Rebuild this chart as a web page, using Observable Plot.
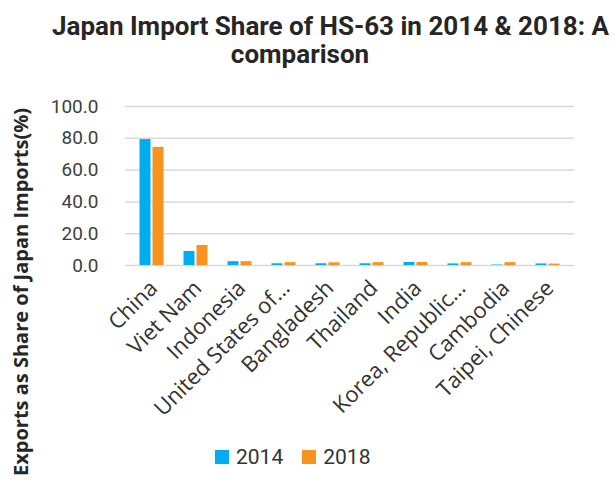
<!DOCTYPE html>
<html><head><meta charset="utf-8">
<script src="https://cdn.jsdelivr.net/npm/d3@7"></script>
<script src="https://cdn.jsdelivr.net/npm/@observablehq/plot@0.6"></script>
<style>
body{margin:0;background:#fff;}
#wrap{position:relative;width:615px;height:486px;overflow:hidden;background:#fff;}
.title{position:absolute;font-family:Roboto,sans-serif;font-weight:700;font-size:26px;line-height:30px;color:#262626;white-space:nowrap;z-index:2;}
#ylab{position:absolute;left:20px;top:292px;transform:translate(-50%,-50%) rotate(-90deg);font-family:"Open Sans",sans-serif;font-weight:700;font-size:20px;color:#262626;white-space:nowrap;z-index:2;}
#chart{position:absolute;left:0;top:75px;z-index:1;}
#legend{position:absolute;left:215px;top:442px;height:30px;display:flex;align-items:center;font-family:Roboto,sans-serif;font-size:21px;color:#333;z-index:2;}
.sw{width:14px;height:14px;display:inline-block;margin-right:7px;}
#chart g[aria-label="y-axis tick label"]{font-family:Roboto,sans-serif;font-size:19px;}
#chart g[aria-label="x-axis tick label"]{font-family:"Open Sans",sans-serif;font-size:22px;fill:#333;}
</style></head><body>
<div id="wrap">
  <div class="title" style="left:52px;top:11px">Japan Import Share of HS-63 in 2014 &amp; 2018: A</div>
  <div class="title" style="left:0;width:600px;text-align:center;top:39px">comparison</div>
  <div id="ylab">Exports as Share of Japan Imports(%)</div>
  <div id="chart"></div>
  <div id="legend"></div>
</div>
<script>
const countries = ["China","Viet Nam","Indonesia","United States of…","Bangladesh","Thailand","India","Korea, Republic…","Cambodia","Taipei, Chinese"];
const share2014 = [79.2, 8.8, 2.4, 1.1, 1.1, 1.1, 1.9, 1.0, 0.3, 1.0];
const share2018 = [74.3, 12.6, 2.4, 1.8, 1.7, 1.8, 1.9, 1.8, 1.8, 0.9];
const years = ["2014","2018"];
const colors = ["#00AEEF","#F7931E"];
const yTicks = [0,20,40,60,80,100];

const data2014 = countries.map((c,i)=>({country:c, year:years[0], value:share2014[i]}));
const data2018 = countries.map((c,i)=>({country:c, year:years[1], value:share2018[i]}));

const plot = Plot.plot({
  width:615, height:365,
  marginLeft:125, marginRight:41, marginTop:31, marginBottom:175,
  style:{background:"transparent", color:"#404040", overflow:"visible"},
  x:{domain:countries, paddingInner:0.755, paddingOuter:0.3775},
  y:{domain:[0,100]},
  marks:[
    Plot.ruleY(yTicks, {stroke:"#d9d9d9", strokeWidth:1.5}),
    Plot.barY(data2014, {x:"country", y:"value", fill:colors[0], dx:-6.5}),
    Plot.barY(data2018, {x:"country", y:"value", fill:colors[1], dx:6.5}),
    Plot.axisY({ticks:yTicks, tickSize:0, tickPadding:27, tickFormat:d3.format(".1f"), label:null}),
    Plot.axisX({tickSize:0, tickRotate:-45, tickPadding:19, dx:2, label:null})
  ]
});
document.getElementById("chart").appendChild(plot);

const legend = document.getElementById("legend");
years.forEach((y,i)=>{
  const s = document.createElement("span"); s.className="sw"; s.style.background=colors[i];
  const t = document.createElement("span"); t.textContent=y; t.style.marginRight = i===0 ? "19px" : "0";
  legend.appendChild(s); legend.appendChild(t);
});
</script>
</body></html>
